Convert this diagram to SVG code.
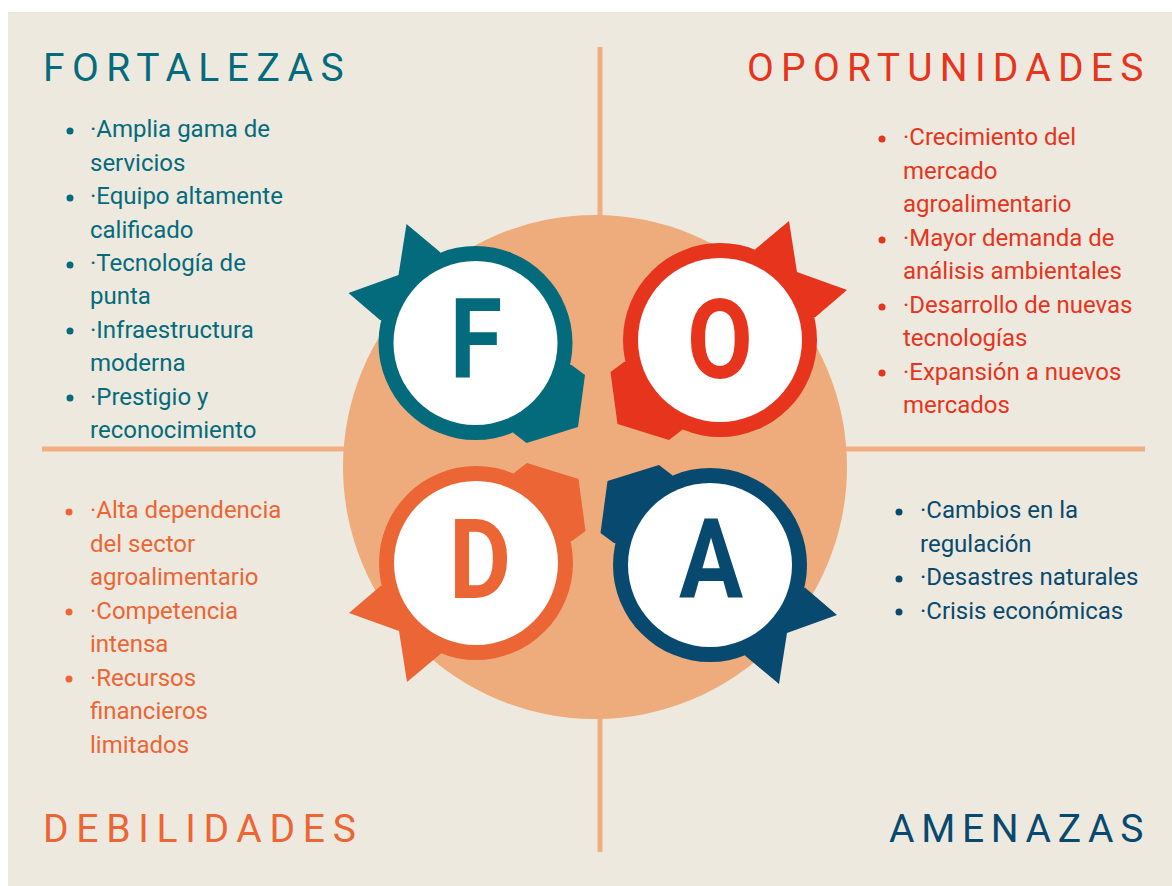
<svg xmlns="http://www.w3.org/2000/svg" width="1172" height="886" viewBox="0 0 1172 886">
<style>
.title{font-family:Roboto,"Liberation Sans",sans-serif;font-size:39px;font-weight:400}
.item{font-family:Roboto,"Liberation Sans",sans-serif;font-size:24px;font-weight:400}
.big{font-family:Roboto,"Liberation Sans",sans-serif;font-size:111px;font-weight:700;text-anchor:middle}
.teal{fill:#046B7C}.red{fill:#E6341D}.orange{fill:#EB6535}.navy{fill:#08496F}
.line{stroke:#F1AE80;stroke-width:5;fill:none}
</style>
<defs>
<g id="gearShape">
<polygon points="-35.5,-91 -69,-119 -77,-68 -127,-50 -95.5,-23 0,0"/>
<polygon points="96,22 109.5,32 102.5,84 51,100 38,90 0,0"/>
<circle r="97"/>
</g>
</defs>
<rect x="8" y="12" width="1164" height="874" fill="#EEE9DE"/>
<g id="connectors">
<line class="line" x1="600" y1="47" x2="600" y2="852"/>
<line class="line" x1="42" y1="449" x2="1145" y2="449"/>
</g>
<circle id="center-disc" cx="595" cy="467" r="252" fill="#EEAC7D"/>
<g id="node-F">
<use href="#gearShape" transform="translate(475.5,343)" fill="#046B7C"/>
<circle cx="475.5" cy="343" r="82" fill="#FFFFFF"/>
<text class="big teal" transform="translate(476,378) scale(0.86,1)">F</text>
</g>
<g id="node-O">
<use href="#gearShape" transform="translate(720,340) scale(-1,1)" fill="#E6341D"/>
<circle cx="720" cy="340" r="82" fill="#FFFFFF"/>
<text class="big red" transform="translate(720,378) scale(0.86,1)">O</text>
</g>
<g id="node-D">
<use href="#gearShape" transform="translate(476,563) scale(1,-1)" fill="#EB6535"/>
<circle cx="476" cy="563" r="82" fill="#FFFFFF"/>
<text class="big orange" transform="translate(480,598) scale(0.86,1)">D</text>
</g>
<g id="node-A">
<use href="#gearShape" transform="translate(710,565) scale(-1,-1)" fill="#08496F"/>
<circle cx="710" cy="565" r="82" fill="#FFFFFF"/>
<text class="big navy" transform="translate(711,598) scale(0.86,1)">A</text>
</g>
<g id="fortalezas">
<text class="title teal" x="43" y="81" letter-spacing="7.45">FORTALEZAS</text>
<g class="teal">
<circle cx="70" cy="131" r="3.5"/><circle cx="70" cy="198" r="3.5"/><circle cx="70" cy="265" r="3.5"/><circle cx="70" cy="331" r="3.5"/><circle cx="70" cy="398" r="3.5"/>
</g>
<text class="item teal">
<tspan x="90" y="137">·Amplia gama de</tspan>
<tspan x="90" y="170.5">servicios</tspan>
<tspan x="90" y="204">·Equipo altamente</tspan>
<tspan x="90" y="237.5">calificado</tspan>
<tspan x="90" y="271">·Tecnología de</tspan>
<tspan x="90" y="304">punta</tspan>
<tspan x="90" y="337.5">·Infraestructura</tspan>
<tspan x="90" y="371">moderna</tspan>
<tspan x="90" y="404.5">·Prestigio y</tspan>
<tspan x="90" y="438">reconocimiento</tspan>
</text>
</g>
<g id="oportunidades">
<text class="title red" x="747" y="81" letter-spacing="7.25">OPORTUNIDADES</text>
<g class="red">
<circle cx="882" cy="139" r="3.5"/><circle cx="882" cy="240" r="3.5"/><circle cx="882" cy="307" r="3.5"/><circle cx="882" cy="373" r="3.5"/>
</g>
<text class="item red">
<tspan x="903" y="145">·Crecimiento del</tspan>
<tspan x="903" y="178.5">mercado</tspan>
<tspan x="903" y="212">agroalimentario</tspan>
<tspan x="903" y="245.5">·Mayor demanda de</tspan>
<tspan x="903" y="279">análisis ambientales</tspan>
<tspan x="903" y="312.5">·Desarrollo de nuevas</tspan>
<tspan x="903" y="346">tecnologías</tspan>
<tspan x="903" y="379.5">·Expansión a nuevos</tspan>
<tspan x="903" y="413">mercados</tspan>
</text>
</g>
<g id="debilidades">
<text class="title orange" x="43" y="842" letter-spacing="7.7">DEBILIDADES</text>
<g class="orange">
<circle cx="69" cy="512" r="3.5"/><circle cx="69" cy="612" r="3.5"/><circle cx="69" cy="679" r="3.5"/>
</g>
<text class="item orange">
<tspan x="90" y="518">·Alta dependencia</tspan>
<tspan x="90" y="551.5">del sector</tspan>
<tspan x="90" y="585">agroalimentario</tspan>
<tspan x="90" y="618.5">·Competencia</tspan>
<tspan x="90" y="652">intensa</tspan>
<tspan x="90" y="685.5">·Recursos</tspan>
<tspan x="90" y="719">financieros</tspan>
<tspan x="90" y="752.5">limitados</tspan>
</text>
</g>
<g id="amenazas">
<text class="title navy" x="889" y="842" letter-spacing="6.7">AMENAZAS</text>
<g class="navy">
<circle cx="899" cy="512" r="3.5"/><circle cx="899" cy="579" r="3.5"/><circle cx="899" cy="612" r="3.5"/>
</g>
<text class="item navy">
<tspan x="920" y="518">·Cambios en la</tspan>
<tspan x="920" y="551.5">regulación</tspan>
<tspan x="920" y="585">·Desastres naturales</tspan>
<tspan x="920" y="618.5">·Crisis económicas</tspan>
</text>
</g>
</svg>
